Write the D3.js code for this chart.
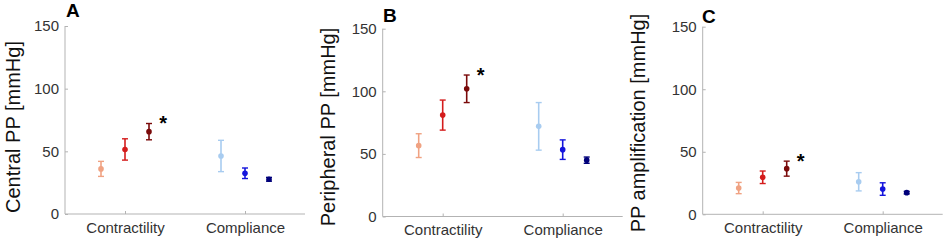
<!DOCTYPE html>
<html>
<head>
<meta charset="utf-8">
<script src="https://cdn.jsdelivr.net/npm/d3@7"></script>
<style>
  html, body { margin: 0; padding: 0; background: #fff; }
  svg { display: block; }
  text { font-family: "Liberation Sans", Arial, sans-serif; }
</style>
</head>
<body>
<svg id="chart" width="945" height="242"></svg>
<script>
// ---- data ----
const categories = ["Contractility", "Compliance"];
const yTicks = [0, 50, 100, 150];
const levelColors = ["#f0a282", "#d41c1c", "#7a0a0a", "#a8ccf0", "#1414dc", "#00007a"];

const panelLetters = ["A", "B", "C"];
const panelLabels = ["Central PP [mmHg]", "Peripheral PP [mmHg]", "PP amplification [mmHg]"];

const centralMean = [36, 51.5, 65.7, 46.3, 32.5, 27.7];
const centralErr = [6, 8.5, 6.5, 12.5, 4.2, 1.5];
const peripheralMean = [56.6, 81, 102, 72, 53.4, 45];
const peripheralErr = [9.5, 12, 11, 19, 7.8, 2.5];
const amplificationMean = [21, 29.6, 36.5, 26, 20.2, 17.3];
const amplificationErr = [4.5, 5, 6, 7.3, 5, 1];
const significant = [false, false, true, false, false, false];

const panelMeans = [centralMean, peripheralMean, amplificationMean];
const panelErrs = [centralErr, peripheralErr, amplificationErr];

// ---- layout ----
const layouts = [
  { axisX: 65, y0: 214, yTop: 26, labelX: 20, labelY: 127, letterX: 66, letterY: 17 },
  { axisX: 382.7, y0: 216.5, yTop: 28.7, labelX: 335, labelY: 127, letterX: 383, letterY: 22 },
  { axisX: 702.7, y0: 214.3, yTop: 26.7, labelX: 645, labelY: 123, letterX: 702, letterY: 23 }
];

const svg = d3.select("#chart");
const axisColor = "#b3b3b3";
const textColor = "#333";

layouts.forEach((L, p) => {
  const g = svg.append("g");
  const x = d3.scaleLinear().domain([0.5, 2.5]).range([L.axisX, L.axisX + 240]);
  const y = d3.scaleLinear().domain([0, 150]).range([L.y0, L.yTop]);

  // y axis
  const yAxis = d3.axisLeft(y).tickValues(yTicks).tickSize(-3).tickPadding(6);
  const ya = g.append("g").attr("transform", `translate(${L.axisX},0)`).call(yAxis);
  ya.select(".domain").attr("stroke", axisColor).attr("d", `M0,${L.y0}V${L.yTop}`);
  ya.selectAll(".tick line").attr("stroke", axisColor);
  ya.selectAll(".tick text").attr("fill", textColor).style("font-size", "15px")
    .style("font-family", "'Liberation Sans', Arial, sans-serif");

  // x axis
  const xAxis = d3.axisBottom(x).tickValues([1, 2]).tickFormat((d) => categories[d - 1])
    .tickSize(-3).tickPadding(8);
  const xa = g.append("g").attr("transform", `translate(0,${L.y0})`).call(xAxis);
  xa.select(".domain").attr("stroke", axisColor).attr("d", `M${L.axisX},0H${L.axisX + 240}`);
  xa.selectAll(".tick line").attr("stroke", axisColor);
  xa.selectAll(".tick text").attr("fill", textColor).style("font-size", "15px")
    .style("font-family", "'Liberation Sans', Arial, sans-serif");

  // y label
  g.append("text")
    .attr("transform", `translate(${L.labelX},${L.labelY}) rotate(-90)`)
    .attr("text-anchor", "middle")
    .attr("fill", "#111")
    .style("font-size", "20px")
    .text(panelLabels[p]);

  // panel letter
  g.append("text")
    .attr("x", L.letterX).attr("y", L.letterY)
    .attr("fill", "#000")
    .style("font-size", "19px").style("font-weight", "bold")
    .text(panelLetters[p]);

  const means = panelMeans[p];
  const errs = panelErrs[p];
  const pts = means.map((m, i) => ({
    cat: Math.floor(i / 3) + 1,
    level: i % 3,
    mean: m,
    err: errs[i],
    color: levelColors[i],
    sig: significant[i]
  }));
  const xPos = (d) => x(d.cat + (d.level - 1) * 0.2);

  const eb = g.selectAll(".eb").data(pts).enter().append("g");
  eb.append("line")
    .attr("x1", xPos).attr("x2", xPos)
    .attr("y1", (d) => y(d.mean - d.err)).attr("y2", (d) => y(d.mean + d.err))
    .attr("stroke", (d) => d.color).attr("stroke-width", 1.6);
  [-1, 1].forEach((s) => {
    eb.append("line")
      .attr("x1", (d) => xPos(d) - 3).attr("x2", (d) => xPos(d) + 3)
      .attr("y1", (d) => y(d.mean + s * d.err)).attr("y2", (d) => y(d.mean + s * d.err))
      .attr("stroke", (d) => d.color).attr("stroke-width", 1.4);
  });
  eb.append("circle")
    .attr("cx", xPos).attr("cy", (d) => y(d.mean)).attr("r", 2.8)
    .attr("fill", (d) => d.color);

  // significance stars
  g.selectAll(".star").data(pts.filter((d) => d.sig)).enter().append("text")
    .attr("x", (d) => x(d.cat + 0.317))
    .attr("y", (d) => y(d.mean + d.err + 3.5) + 11)
    .attr("text-anchor", "middle")
    .attr("fill", "#000")
    .style("font-size", "20px").style("font-weight", "bold")
    .text("*");
});
</script>
</body>
</html>
